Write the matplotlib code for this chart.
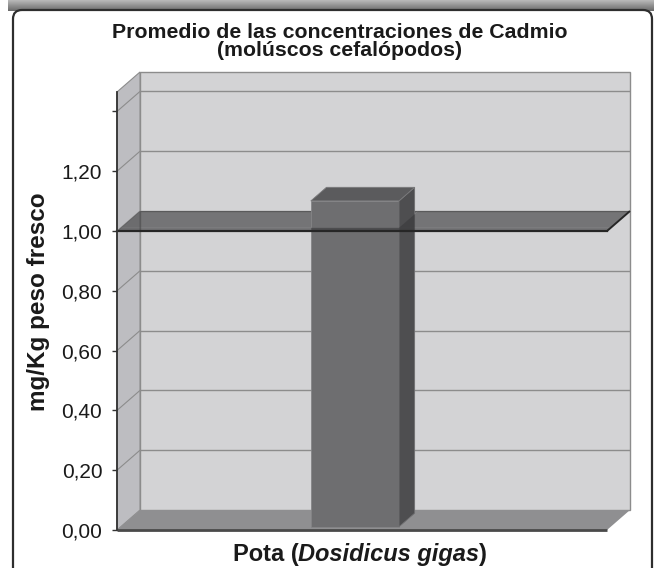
import numpy as np
import matplotlib
matplotlib.use("Agg")
import matplotlib.pyplot as plt
from matplotlib.patches import Polygon, Rectangle, FancyBboxPatch
from matplotlib.transforms import IdentityTransform, offset_copy

plt.rcParams['font.family'] = ['Liberation Sans', 'DejaVu Sans']

# chart data
title_lines = ["Promedio de las concentraciones de Cadmio", "(molúscos cefalópodos)"]
y_title = "mg/Kg peso fresco"
species_parts = [("Pota (", "normal"), ("Dosidicus gigas", "italic"), (")", "normal")]
cadmio = [1.09]
limite = 1.00
y_ticks = [0.0, 0.2, 0.4, 0.6, 0.8, 1.0, 1.2, 1.4]
y_labels = ["0,00", "0,20", "0,40", "0,60", "0,80", "1,00", "1,20", ""]

W, H = 654, 568
fig = plt.figure(figsize=(W / 100, H / 100), dpi=100)
fig.patch.set_facecolor('white')

# front plane of the pseudo-3D box
ax = fig.add_axes([117 / W, 38 / H, 490 / W, 438 / H])
ax.set_xlim(-0.478, 0.522)
ax.set_ylim(0, 1.465)
ax.set_autoscale_on(False)
ax.set_facecolor('none')
for s in ['top', 'right', 'bottom']:
    ax.spines[s].set_visible(False)
ax.spines['left'].set_color('#333333')
ax.spines['left'].set_linewidth(1.3)
ax.spines['left'].set_zorder(8)
ax.set_xticks([])
ax.set_yticks(y_ticks)
ax.set_yticklabels(y_labels)
ax.tick_params(axis='y', direction='out', length=3.6, width=1, color='#333333',
               labelsize=15, pad=7, labelcolor='#1a1a1a')

xmin, xmax = ax.get_xlim()
ymin, ymax = ax.get_ylim()

# depth offset in pixels (full depth of the box)
DX, DY = 23, 20
ident = IdentityTransform()
back = offset_copy(ax.transData, fig=fig, x=DX, y=DY, units='dots')


def proj(pts):
    out = []
    for x, y, d in pts:
        px, py = ax.transData.transform((x, y))
        out.append((px + DX * d, py + DY * d))
    return out


def face(pts, fc, ec='none', lw=0.0, z=1, alpha=1.0):
    p = Polygon(proj(pts), closed=True, transform=ident, facecolor=fc,
                edgecolor=ec, linewidth=lw, zorder=z, alpha=alpha, clip_on=False)
    ax.add_patch(p)


def edge(pts, color, lw, z):
    xy = np.array(proj(pts))
    ax.plot(xy[:, 0], xy[:, 1], color=color, lw=lw, transform=ident,
            zorder=z, clip_on=False, solid_capstyle='butt')


# back wall and its grid
ax.add_patch(Rectangle((xmin, ymin), xmax - xmin, ymax - ymin, transform=back,
                       facecolor='#d3d3d5', edgecolor='#8c8c8c', lw=1,
                       zorder=1, clip_on=False))
ax.hlines(y_ticks[1:], xmin, xmax, colors='#8c8c8c', lw=1, transform=back,
          zorder=1.1, clip_on=False)

# left side wall and its grid
face([(xmin, ymin, 0), (xmin, ymin, 1), (xmin, ymax, 1), (xmin, ymax, 0)],
     '#bdbdc1', ec='#8c8c8c', lw=0.8, z=1.2)
for t in y_ticks[1:]:
    edge([(xmin, t, 0), (xmin, t, 1)], '#8c8c8c', 0.8, 1.3)

# floor
face([(xmin, 0, 0), (xmax, 0, 0), (xmax, 0, 1), (xmin, 0, 1)], '#8f8f91', z=1.5)
edge([(xmin, 0, 0), (xmax, 0, 0)], '#4a4a4a', 2, 1.6)

# bar position inside the category (front / back depth)
f0, f1 = 0.16, 0.84
half = 0.09
plane_c = '#3a3a3c'
plane_a = 0.62

# reference plane, part hidden by the bar
face([(xmin, limite, f0), (half, limite, f0), (half, limite, 1), (xmin, limite, 1)],
     plane_c, z=2, alpha=plane_a)

for i, v in enumerate(cadmio):
    xl, xr = i - half, i + half
    face([(xl, 0, f0), (xr, 0, f0), (xr, v, f0), (xl, v, f0)], '#6e6e70',
         ec='#858587', lw=0.6, z=3)
    face([(xr, 0, f0), (xr, 0, f1), (xr, v, f1), (xr, v, f0)], '#4e4e50',
         ec='#707072', lw=0.6, z=3)
    face([(xl, v, f0), (xr, v, f0), (xr, v, f1), (xl, v, f1)], '#5b5b5d',
         ec='#7a7a7c', lw=0.6, z=3)

# reference plane, parts in front of the bar
face([(half, limite, f0), (xmax, limite, f0), (xmax, limite, 1), (half, limite, 1)],
     plane_c, z=4, alpha=plane_a)
face([(xmin, limite, 0), (xmax, limite, 0), (xmax, limite, f0), (xmin, limite, f0)],
     plane_c, z=4, alpha=plane_a)
ax.plot([xmin, xmax], [limite, limite], color='#262626', lw=1.6, zorder=5,
        clip_on=False)
edge([(xmax, limite, 0), (xmax, limite, 1)], '#262626', 1.4, 5)

# titles
fig.text(340 / W, 1 - 33 / H, title_lines[0], ha='center', va='center',
         fontsize=15.3, fontweight='bold', color='#1a1a1a')
fig.text(340 / W, 1 - 51 / H, title_lines[1], ha='center', va='center',
         fontsize=15.3, fontweight='bold', color='#1a1a1a')
fig.text(39 / W, 1 - 302 / H, y_title, ha='center', va='center', rotation=90,
         fontsize=17.5, fontweight='bold', color='#1a1a1a')

# category label with italic species name
renderer = fig.canvas.get_renderer()
pieces = []
for txt, style in species_parts:
    t = fig.text(0, 1 - 555 / H, txt, ha='left', va='center', fontsize=17,
                 fontweight='bold', fontstyle=style, color='#1a1a1a')
    pieces.append(t)
widths = [t.get_window_extent(renderer).width for t in pieces]
x0 = 360 - sum(widths) / 2
for t, w in zip(pieces, widths):
    t.set_x(x0 / W)
    x0 += w

# rounded frame with a shadow strip along the top
shade = fig.add_axes([8 / W, 1 - 11 / H, 1 - 8 / W, 11 / H], zorder=-1)
grad = np.linspace(0.72, 0.42, 20).reshape(-1, 1)
shade.imshow(grad, cmap='gray', vmin=0, vmax=1, aspect='auto',
             extent=[0, 1, 0, 1], origin='upper')
shade.axis('off')
frame = FancyBboxPatch((13, -30), 639, H - 10 + 30,
                       boxstyle='round,pad=0,rounding_size=9',
                       transform=ident, facecolor='white', edgecolor='#2e2e2e',
                       lw=1.6, zorder=-0.5)
fig.add_artist(frame)
ax.set_zorder(1)

fig.savefig('out.png', dpi=100)
